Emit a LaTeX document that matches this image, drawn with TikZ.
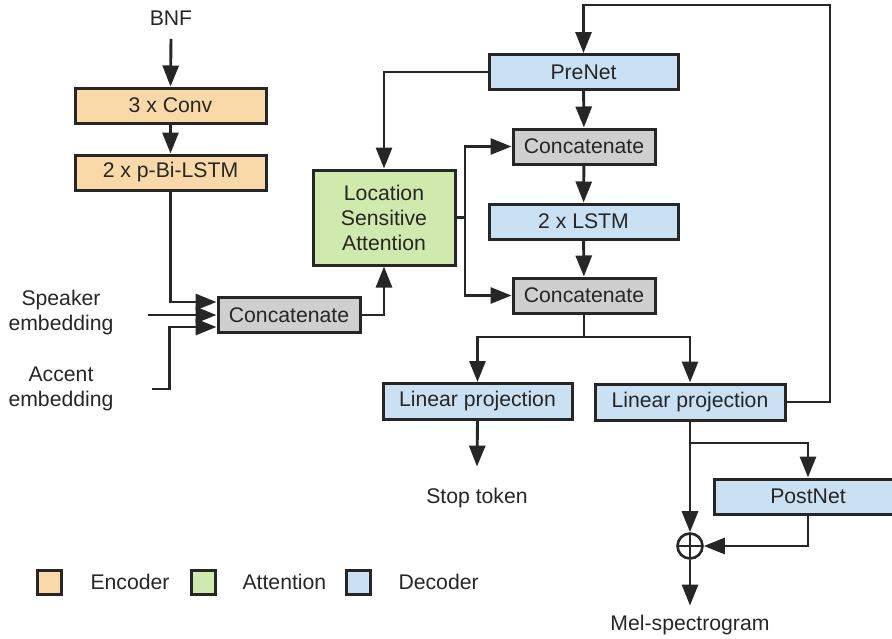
\documentclass[tikz,border=0pt]{standalone}
\usepackage{fontspec}
\setmainfont{Liberation Sans}
\usetikzlibrary{arrows.meta}
\definecolor{enccol}{HTML}{F9D9A8}
\definecolor{attcol}{HTML}{D0E9AD}
\definecolor{deccol}{HTML}{CAE1F4}
\definecolor{catcol}{HTML}{CFCFCF}
\definecolor{ink}{HTML}{262626}
\begin{document}
\begin{tikzpicture}[x=1pt,y=-1pt,
  font=\fontsize{21.2}{25}\selectfont, text=ink,
  box/.style={draw=ink, line width=3pt, inner sep=0pt, minimum height=35pt},
  enc/.style={box, fill=enccol, minimum width=191pt},
  dec/.style={box, fill=deccol, minimum width=189pt},
  cat/.style={box, fill=catcol, minimum width=142pt},
  key/.style={draw=ink, line width=3pt, minimum size=24pt, inner sep=0pt},
  arr/.style={draw=ink, line width=2.9pt, -{Triangle[length=21pt,width=16pt]}},
  wire/.style={draw=ink, line width=2.9pt}]
\useasboundingbox (0,0) rectangle (892,638);
\node (bnf) at (171,18) {BNF};
\node[enc] (conv) at (170.5,105.5) {3 x Conv};
\node[enc] (bilstm) at (170.5,172.5) {2 x p-Bi-LSTM};
\node[cat] (catl) at (289,315) {Concatenate};
\node[align=center] (spktxt) at (61,313) {Speaker\\embedding};
\node[align=center] (acctxt) at (61,389) {Accent\\embedding};
\coordinate (spk) at (148,315);
\coordinate (acc) at (152,389);
\node[box, fill=attcol, minimum width=142pt, minimum height=95pt, align=center] (attn) at (384,217.5) {Location\\Sensitive\\Attention};
\node[dec] (prenet) at (583.5,72) {PreNet};
\node[cat] (cat1) at (584,146.5) {Concatenate};
\node[dec] (lstm) at (583.5,221.5) {2 x LSTM};
\node[cat] (cat2) at (584,295.5) {Concatenate};
\node[dec, minimum height=36pt] (linl) at (477.5,401.5) {Linear projection};
\node[dec, minimum height=36pt, minimum width=190pt] (linr) at (690,402) {Linear projection};
\node[dec, minimum width=188pt] (postnet) at (808,496.5) {PostNet};
\node[circle, draw=ink, line width=2.6pt, minimum size=25pt, inner sep=0pt,
  path picture={\draw[ink, line width=2.6pt] (path picture bounding box.north) -- (path picture bounding box.south)
  (path picture bounding box.west) -- (path picture bounding box.east);}] (add) at (690,546) {};
\node (stop) at (477,498) {Stop token};
\node (mel) at (690,625) {Mel-spectrogram};
\coordinate (split) at (465,217.5);
\coordinate (fork) at (584,337);
\coordinate (fb) at (830,5);
\coordinate (pbr) at (690,443);
% encoder
\draw[arr] ([yshift=-10pt]bnf.south) -- (conv.north);
\draw[arr] (conv) -- (bilstm);
\draw[arr] (bilstm.south) |- ([yshift=13pt]catl.west);
\draw[arr] (spk) -- (catl.west);
\draw[arr] (acc) -| ([xshift=-47pt,yshift=-12pt]catl.west) -- ([yshift=-12pt]catl.west);
\draw[arr] (catl.east) -| (attn.south);
% decoder
\draw[arr] (prenet.west) -| (attn.north);
\draw[arr] (prenet) -- (cat1);
\draw[arr] (cat1) -- (lstm);
\draw[arr] (lstm) -- (cat2);
\draw[wire] (attn.east) -- (split);
\draw[arr] (split) |- (cat1.west);
\draw[arr] (split) |- (cat2.west);
\draw[wire] (cat2.south) -- (fork);
\draw[arr] (fork) -| (linl.north);
\draw[arr] (fork) -| (linr.north);
\draw[arr] (linl.south) -- ([yshift=18pt]stop.north);
\draw[arr] (linr.east) -| (fb) -| (prenet.north);
\draw[arr] (linr.south) -- (add.north);
\draw[arr] (pbr) -| (postnet.north);
\draw[arr] (postnet.south) |- (add.east);
\draw[arr] (add.south) -- ([yshift=6pt]mel.north);
% legend
\node[key, fill=enccol] (kenc) at (49,582) {};
\node[anchor=west] (tenc) at (87,582) {Encoder};
\node[key, fill=attcol] (katt) at (203,582) {};
\node[anchor=west] (tatt) at (239,582) {Attention};
\node[key, fill=deccol] (kdec) at (358,582) {};
\node[anchor=west] (tdec) at (395,582) {Decoder};
\end{tikzpicture}
\end{document}
